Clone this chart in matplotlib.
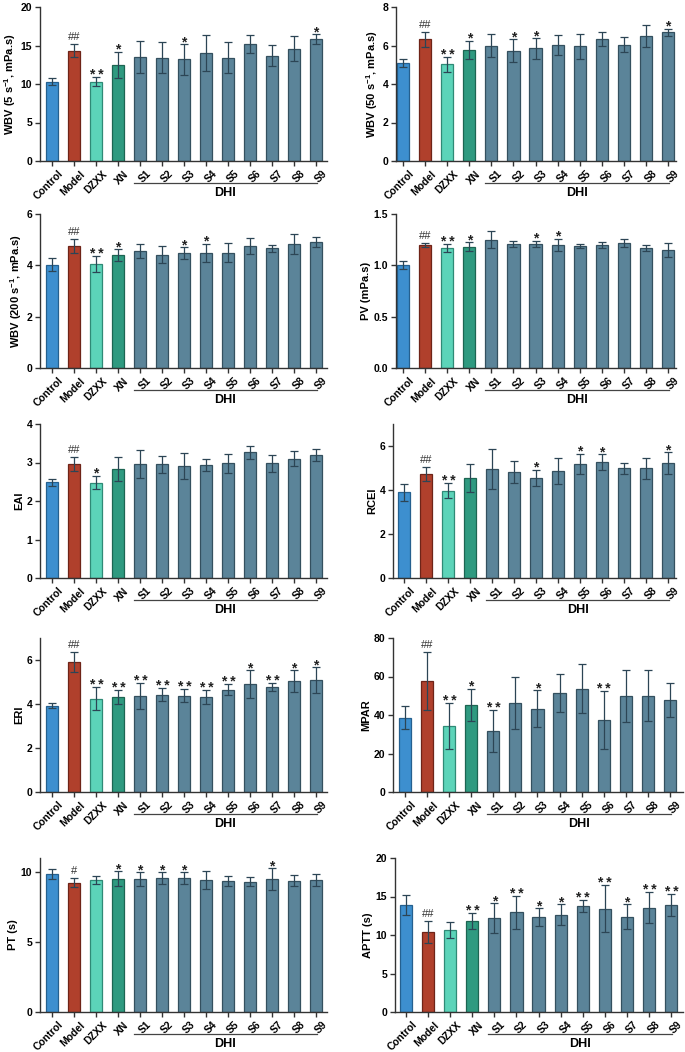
import numpy as np
import matplotlib
matplotlib.use("Agg")
import matplotlib.pyplot as plt
from matplotlib.transforms import blended_transform_factory, ScaledTranslation

plt.rcParams['font.family'] = ['Liberation Sans', 'DejaVu Sans']
plt.rcParams['font.weight'] = 'bold'
plt.rcParams['mathtext.fontset'] = 'custom'
plt.rcParams['mathtext.rm'] = 'Liberation Sans:bold'
plt.rcParams['mathtext.bf'] = 'Liberation Sans:bold'
plt.rcParams['mathtext.default'] = 'bf'

groups = ["Control", "Model", "DZXX", "XN", "S1", "S2", "S3", "S4", "S5", "S6", "S7", "S8", "S9"]

wbv5_mean = [10.3, 14.3, 10.3, 12.5, 13.5, 13.4, 13.2, 14.0, 13.4, 15.2, 13.7, 14.6, 15.85]
wbv5_err = [0.45, 0.85, 0.6, 1.7, 2.1, 2.0, 2.0, 2.3, 2.0, 1.2, 1.4, 1.6, 0.6]
wbv5_sig = ["", "##", "**", "*", "", "", "*", "", "", "", "", "", "*"]

wbv50_mean = [5.1, 6.32, 5.02, 5.77, 5.98, 5.72, 5.85, 6.02, 5.97, 6.34, 6.04, 6.48, 6.68]
wbv50_err = [0.22, 0.38, 0.38, 0.48, 0.6, 0.6, 0.53, 0.53, 0.65, 0.38, 0.38, 0.58, 0.19]
wbv50_sig = ["", "##", "**", "*", "", "*", "*", "", "", "", "", "", "*"]

wbv200_mean = [4.03, 4.75, 4.05, 4.4, 4.56, 4.42, 4.48, 4.49, 4.49, 4.75, 4.66, 4.84, 4.91]
wbv200_err = [0.26, 0.27, 0.3, 0.22, 0.26, 0.33, 0.23, 0.35, 0.37, 0.31, 0.13, 0.4, 0.18]
wbv200_sig = ["", "##", "**", "*", "", "", "*", "*", "", "", "", "", ""]

pv_mean = [1.0, 1.2, 1.17, 1.18, 1.25, 1.21, 1.21, 1.2, 1.19, 1.2, 1.22, 1.17, 1.15]
pv_err = [0.04, 0.02, 0.04, 0.045, 0.08, 0.03, 0.03, 0.06, 0.02, 0.03, 0.04, 0.03, 0.07]
pv_sig = ["", "##", "**", "*", "", "", "*", "*", "", "", "", "", ""]

eai_mean = [2.49, 2.97, 2.48, 2.84, 2.96, 2.96, 2.9, 2.93, 2.98, 3.26, 2.98, 3.1, 3.2]
eai_err = [0.09, 0.18, 0.18, 0.31, 0.36, 0.22, 0.34, 0.15, 0.25, 0.16, 0.22, 0.19, 0.16]
eai_sig = ["", "##", "*", "", "", "", "", "", "", "", "", "", ""]

rcei_mean = [3.9, 4.74, 3.97, 4.53, 4.95, 4.82, 4.56, 4.86, 5.18, 5.27, 4.98, 4.98, 5.21]
rcei_err = [0.38, 0.32, 0.35, 0.64, 0.9, 0.52, 0.37, 0.6, 0.47, 0.35, 0.24, 0.46, 0.5]
rcei_sig = ["", "##", "**", "", "", "", "*", "", "*", "*", "", "", "*"]

eri_mean = [3.92, 5.91, 4.24, 4.3, 4.36, 4.42, 4.38, 4.32, 4.65, 4.91, 4.77, 5.03, 5.08]
eri_err = [0.12, 0.44, 0.53, 0.32, 0.6, 0.29, 0.29, 0.3, 0.25, 0.62, 0.17, 0.5, 0.6]
eri_sig = ["", "##", "**", "**", "**", "**", "**", "**", "**", "*", "**", "*", "*"]

mpar_mean = [38.6, 57.7, 34.3, 45.2, 31.8, 46.4, 43.3, 51.5, 53.7, 37.4, 49.9, 50.1, 47.8]
mpar_err = [6.1, 15.2, 12.0, 8.4, 10.8, 13.6, 9.7, 9.9, 12.9, 15.0, 13.6, 13.2, 8.7]
mpar_sig = ["", "##", "**", "*", "**", "", "*", "", "", "**", "", "", ""]

pt_mean = [9.86, 9.23, 9.43, 9.52, 9.5, 9.55, 9.55, 9.43, 9.38, 9.31, 9.5, 9.38, 9.4]
pt_err = [0.38, 0.32, 0.31, 0.53, 0.5, 0.43, 0.43, 0.62, 0.36, 0.31, 0.79, 0.38, 0.43]
pt_sig = ["", "#", "", "*", "*", "*", "*", "", "", "", "*", "", ""]

aptt_mean = [13.95, 10.37, 10.67, 11.84, 12.22, 12.96, 12.35, 12.66, 13.78, 13.43, 12.4, 13.56, 13.87]
aptt_err = [1.3, 1.47, 1.03, 1.03, 1.9, 2.15, 1.13, 1.34, 0.78, 3.1, 1.6, 2.0, 1.46]
aptt_sig = ["", "##", "", "**", "*", "**", "*", "*", "**", "**", "*", "**", "**"]

ylabels = [r"WBV (5 s$^{-1}$, mPa.s)", r"WBV (50 s$^{-1}$, mPa.s)",
           r"WBV (200 s$^{-1}$, mPa.s)", "PV (mPa.s)", "EAI", "RCEI",
           "ERI", "MPAR", "PT (s)", "APTT (s)"]
yticks = [[0, 5, 10, 15, 20], [0, 2, 4, 6, 8], [0, 2, 4, 6], [0.0, 0.5, 1.0, 1.5],
          [0, 1, 2, 3, 4], [0, 2, 4, 6], [0, 2, 4, 6], [0, 20, 40, 60, 80],
          [0, 5, 10], [0, 5, 10, 15, 20]]
ylims = [20, 8, 6, 1.5, 4, 7, 7, 80, 11, 20]

panels = [(wbv5_mean, wbv5_err, wbv5_sig), (wbv50_mean, wbv50_err, wbv50_sig),
          (wbv200_mean, wbv200_err, wbv200_sig), (pv_mean, pv_err, pv_sig),
          (eai_mean, eai_err, eai_sig), (rcei_mean, rcei_err, rcei_sig),
          (eri_mean, eri_err, eri_sig), (mpar_mean, mpar_err, mpar_sig),
          (pt_mean, pt_err, pt_sig), (aptt_mean, aptt_err, aptt_sig)]

face = ["#3d8fcf", "#b0402c", "#5cd4b9", "#2f9a80"] + ["#5b8499"] * 9
edge = ["#25608f", "#6e2418", "#2f8a76", "#1d6552"] + ["#34505f"] * 9
errc = "#2c4555"

W, H = 685, 1052
fig = plt.figure(figsize=(W / 100, H / 100), dpi=100)

row_top = [7, 214, 424, 638, 858]
row_h = 154
# per panel: (axis left px, axis right px, xlim lo, xlim hi)
geo = [(40, 327, -0.545, 12.5), (396, 676, -0.32, 12.36),
       (40, 327, -0.545, 12.5), (396, 676, -0.32, 12.36),
       (40, 327, -0.545, 12.5), (393, 676, -0.5, 12.36),
       (40, 327, -0.545, 12.5), (393, 683, -0.54, 12.59),
       (40, 327, -0.545, 12.5), (395, 683, -0.5, 12.54)]

x = np.arange(len(groups))
shift = ScaledTranslation(6 / 100, 0, fig.dpi_scale_trans)
for i, (mean, err, sig) in enumerate(panels):
    r = i // 2
    l, rr, xlo, xhi = geo[i]
    ax = fig.add_axes([l / W, 1 - (row_top[r] + row_h) / H, (rr - l) / W, row_h / H])
    ax.bar(x, mean, width=0.55, color=face, edgecolor=edge, linewidth=0.9, zorder=2)
    ax.errorbar(x, mean, yerr=err, fmt="none", ecolor=errc, elinewidth=0.9,
                capsize=3.2, capthick=0.9, zorder=3)
    for xi, m, e, s in zip(x, mean, err, sig):
        if not s:
            continue
        if "*" in s:
            ax.annotate(" ".join(s) if len(s) > 1 else s, (xi, m + e), xytext=(0, -1.5),
                        textcoords="offset points", ha="center", va="baseline",
                        fontsize=10, fontweight="bold", color="#222222")
        else:
            ax.annotate(s, (xi, m + e), xytext=(0, 3), textcoords="offset points",
                        ha="center", va="baseline", fontsize=8,
                        fontweight="normal", color="#333333")
    ax.set_xlim(xlo, xhi)
    ax.set_ylim(0, ylims[i])
    ax.set_yticks(yticks[i])
    if i == 3:
        ax.set_yticklabels([f"{v:.1f}" for v in yticks[i]])
    ax.set_xticks(x)
    ax.set_xticklabels(groups, rotation=45, ha="right", rotation_mode="anchor")
    ax.set_ylabel(ylabels[i], fontsize=8, fontweight="bold", labelpad=2)
    for sp in ["top", "right"]:
        ax.spines[sp].set_visible(False)
    for sp in ["left", "bottom"]:
        ax.spines[sp].set_linewidth(1.0)
        ax.spines[sp].set_color("#333333")
    ax.tick_params(axis="both", labelsize=7.5, length=3.5, width=1.0, color="#333333",
                   pad=2)
    for lab in ax.get_xticklabels():
        lab.set_fontweight("bold")
        lab.set_transform(lab.get_transform() + shift)
    for lab in ax.get_yticklabels():
        lab.set_fontweight("bold")
    tr = blended_transform_factory(ax.transData, ax.transAxes)
    ax.plot([3.72, 12.05], [-0.143, -0.143], color="#444444", lw=0.9,
            transform=tr, clip_on=False)
    ax.text((3.72 + 12.05) / 2, -0.17, "DHI", transform=tr, ha="center", va="top",
            fontsize=9, fontweight="bold")

fig.savefig("out.png", dpi=100)
